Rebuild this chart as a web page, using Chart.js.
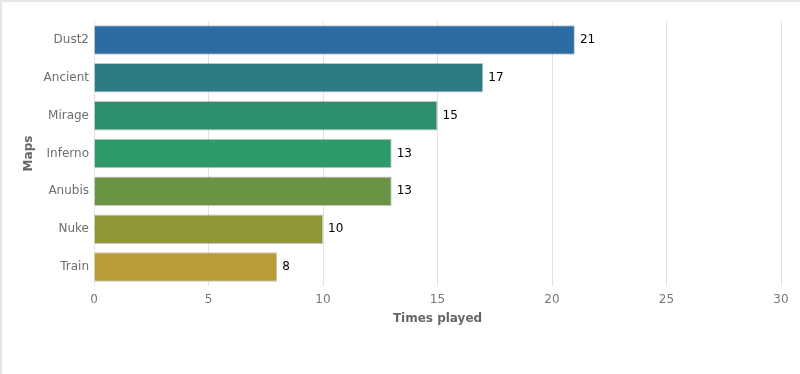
<!DOCTYPE html>
<html>
<head>
<meta charset="utf-8">
<script src="https://cdn.jsdelivr.net/npm/chart.js@4/dist/chart.umd.min.js"></script>
<style>
    body { margin: 0; background: #fff; }
    #wrap {
        width: 798px;
        height: 372px;
        border-top: 2px solid #e6e6ea;
        border-left: 2px solid #e6e6ea;
    }
</style>
</head>
<body>
<div id="wrap"><canvas id="mapsChart" width="798" height="372"></canvas></div>
<script>
// Data
const maps = ['Dust2', 'Ancient', 'Mirage', 'Inferno', 'Anubis', 'Nuke', 'Train'];
const timesPlayed = [21, 17, 15, 13, 13, 10, 8];
const barColors = ['#2d6ca2', '#2b7b85', '#2d8f6f', '#2f9a69', '#6a9444', '#909538', '#b99c35'];
const xTicks = [0, 5, 10, 15, 20, 25, 30];

// Draws the value just right of each bar
const valueLabels = {
    id: 'valueLabels',
    afterDatasetsDraw(chart) {
        const ctx = chart.ctx;
        const meta = chart.getDatasetMeta(0);
        ctx.save();
        ctx.font = '12px "DejaVu Sans"';
        ctx.fillStyle = '#000';
        ctx.textAlign = 'left';
        ctx.textBaseline = 'middle';
        meta.data.forEach((bar, i) => {
            ctx.fillText(timesPlayed[i], bar.x + 5, bar.y);
        });
        ctx.restore();
    }
};

const ctx = document.getElementById('mapsChart').getContext('2d');

new Chart(ctx, {
    type: 'bar',
    data: {
        labels: maps,
        datasets: [{
            data: timesPlayed,
            backgroundColor: barColors,
            borderColor: 'rgba(90, 90, 90, 0.35)',
            borderWidth: 1,
            categoryPercentage: 1,
            barPercentage: 0.78
        }]
    },
    options: {
        indexAxis: 'y',
        responsive: false,
        animation: false,
        layout: { padding: { left: 0, top: 19, right: 19, bottom: 47.7 } },
        plugins: {
            legend: { display: false },
            tooltip: { enabled: false }
        },
        scales: {
            x: {
                min: 0,
                max: 30,
                afterBuildTicks: (scale) => {
                    scale.ticks = xTicks.map(v => ({ value: v }));
                },
                grid: { color: '#e2e2e2', lineWidth: 1, drawTicks: false },
                border: { display: false },
                ticks: {
                    padding: 7,
                    color: '#777',
                    font: { family: 'DejaVu Sans', size: 12 }
                },
                title: {
                    display: true,
                    text: 'Times played',
                    color: '#666',
                    font: { family: 'DejaVu Sans', size: 12, weight: 'bold' },
                    padding: { top: 7, bottom: 0 }
                },
                afterFit: (scale) => { scale.height = 40.3; }
            },
            y: {
                grid: { display: false, drawTicks: false },
                border: { display: false },
                ticks: {
                    padding: 5,
                    color: '#6e6e6e',
                    font: { family: 'DejaVu Sans', size: 12 }
                },
                title: {
                    display: true,
                    text: 'Maps',
                    color: '#666',
                    font: { family: 'DejaVu Sans', size: 12, weight: 'bold' },
                    padding: { top: 20, bottom: 0 }
                },
                afterFit: (scale) => { scale.width = 92; }
            }
        }
    },
    plugins: [valueLabels]
});
</script>
</body>
</html>
